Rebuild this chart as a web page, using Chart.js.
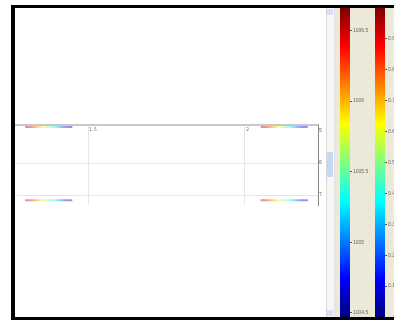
<!DOCTYPE html>
<html>
<head>
<meta charset="utf-8">
<script src="https://cdn.jsdelivr.net/npm/chart.js@4.4.1/dist/chart.umd.min.js"></script>
<style>
  body { margin: 0; width: 394px; height: 320px; background: #fff; position: relative; overflow: hidden; font-family: "DejaVu Sans", sans-serif; }
  .abs { position: absolute; }
  #panel { left: 15px; top: 8px; width: 311px; height: 309px; background: #fff; }
  #side { left: 334px; top: 8px; width: 60px; height: 309px; background: #ECE9D8; }
  #track { left: 326px; top: 8px; width: 7px; height: 309px; background: #f7f7f4; border-left: 1px solid #d8d8d8; border-right: 1px solid #e0e0e0; }
  #thumb { left: 327px; top: 152px; width: 6px; height: 25px; background: #c6d6f6; border-radius: 1px; }
  .btn { left: 327px; width: 6px; height: 6px; background: #d6e0f4; }
  #frameTop { left: 11px; top: 5px; width: 383px; height: 3px; background: #000; z-index: 5; }
  #frameLeft { left: 11px; top: 5px; width: 4px; height: 315px; background: #000; z-index: 5; }
  #frameBottom { left: 11px; top: 317px; width: 383px; height: 3px; background: #000; z-index: 5; }
  #main { left: 15px; top: 8px; }
  #cbLeft { left: 340px; top: 4px; }
  #cbRight { left: 375px; top: 4px; }
</style>
</head>
<body>
<div class="abs" id="panel"></div>
<div class="abs" id="side"></div>
<div class="abs" id="track"></div>
<div class="abs btn" style="top:9px"></div>
<div class="abs btn" style="top:310px"></div>
<div class="abs" id="thumb"></div>
<canvas class="abs" id="main" width="311" height="309"></canvas>
<canvas class="abs" id="cbLeft" width="34" height="317"></canvas>
<canvas class="abs" id="cbRight" width="19" height="317"></canvas>
<div class="abs" id="frameTop"></div>
<div class="abs" id="frameLeft"></div>
<div class="abs" id="frameBottom"></div>
<script>
// Data
const xTicks = [1.5, 2];
const yTicks = [5, 6, 7];
const segLeftX = [1.3, 1.45];
const segRightX = [2.05, 2.2];
const segRowsY = [4.875, 7.16];
const leftBarRange = [1004.47, 1006.66];
const leftBarTicks = [1004.5, 1005, 1005.5, 1006, 1006.5];
const rightBarRange = [0, 1];
const rightBarTicks = [0.1, 0.2, 0.3, 0.4, 0.5, 0.6, 0.7, 0.8, 0.9];

// jet colormap stops
const jet = [[0, '0,0,127'], [0.125, '0,0,255'], [0.375, '0,255,255'], [0.625, '255,255,0'], [0.875, '255,0,0'], [1, '127,0,0']];

function jetGradient(ctx, x0, y0, x1, y1, alpha) {
    const g = ctx.createLinearGradient(x0, y0, x1, y1);
    jet.forEach(s => g.addColorStop(s[0], 'rgba(' + s[1] + ',' + alpha + ')'));
    return g;
}

// segment datasets (red on the left, blue on the right)
const segments = [];
[segLeftX, segRightX].forEach(xs => {
    segRowsY.forEach(y => {
        segments.push({
            data: xs.map(x => ({ x: x, y: y })),
            showLine: true,
            pointRadius: 0,
            borderWidth: 2,
            borderColor: function (c) {
                const ch = c.chart;
                if (!ch.chartArea) return '#aaa';
                const sx = ch.scales.x;
                return jetGradient(ch.ctx, sx.getPixelForValue(xs[1]), 0, sx.getPixelForValue(xs[0]), 0, 0.42);
            }
        });
    });
});

// x labels drawn inside the plot, at the top
const innerXLabels = {
    id: 'innerXLabels',
    afterDraw(chart) {
        const { ctx, chartArea } = chart;
        const sx = chart.scales.x;
        ctx.save();
        ctx.font = '5px "DejaVu Sans"';
        ctx.fillStyle = '#777';
        ctx.textBaseline = 'top';
        xTicks.forEach(v => ctx.fillText(String(v), sx.getPixelForValue(v) + 1, chartArea.top + 2));
        ctx.restore();
    }
};

new Chart(document.getElementById('main'), {
    type: 'scatter',
    data: { datasets: segments },
    options: {
        responsive: false,
        animation: false,
        layout: { padding: { top: 117, bottom: 112, left: 0, right: 0 } },
        plugins: { legend: { display: false }, tooltip: { enabled: false } },
        scales: {
            x: {
                position: 'top',
                min: 1.2675,
                max: 2.2325,
                afterBuildTicks: s => { s.ticks = xTicks.map(v => ({ value: v })); },
                ticks: { display: false },
                grid: { color: '#e6e6e6', drawTicks: false },
                border: { color: '#c8c8c8', width: 2 }
            },
            y: {
                position: 'right',
                reverse: true,
                min: 4.81,
                max: 7.31,
                afterBuildTicks: s => { s.ticks = yTicks.map(v => ({ value: v })); },
                afterFit: s => { s.width = 8; },
                ticks: { font: { size: 5 }, color: '#666', padding: 1 },
                grid: {
                    drawTicks: false,
                    color: c => (c.tick && c.tick.value === 5) ? 'rgba(0,0,0,0)' : '#e6e6e6'
                },
                border: { color: '#888', width: 1 }
            }
        }
    },
    plugins: [innerXLabels]
});

function colorbar(id, range, ticks, axisWidth) {
    new Chart(document.getElementById(id), {
        type: 'bar',
        data: {
            labels: [''],
            datasets: [{
                data: [range],
                barPercentage: 1,
                categoryPercentage: 1,
                borderWidth: 0,
                backgroundColor: function (c) {
                    const ch = c.chart;
                    if (!ch.chartArea) return '#888';
                    const sy = ch.scales.y;
                    return jetGradient(ch.ctx, 0, sy.getPixelForValue(range[0]), 0, sy.getPixelForValue(range[1]), 1);
                }
            }]
        },
        options: {
            responsive: false,
            animation: false,
            layout: { padding: 0 },
            plugins: { legend: { display: false }, tooltip: { enabled: false } },
            scales: {
                x: { display: false },
                y: {
                    position: 'right',
                    min: range[0],
                    max: range[1],
                    afterBuildTicks: s => { s.ticks = ticks.map(v => ({ value: v })); },
                    afterFit: s => { s.width = axisWidth; },
                    ticks: { font: { size: 5 }, color: '#666', padding: 1, callback: v => String(v) },
                    grid: { drawOnChartArea: false, tickLength: 2, color: '#555' },
                    border: { display: false }
                }
            }
        }
    });
}

colorbar('cbLeft', leftBarRange, leftBarTicks, 24);
colorbar('cbRight', rightBarRange, rightBarTicks, 9);
</script>
</body>
</html>
